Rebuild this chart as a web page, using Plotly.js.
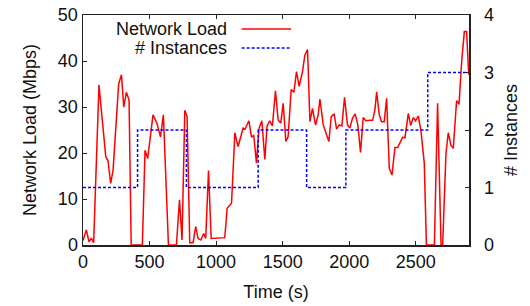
<!DOCTYPE html>
<html>
<head>
<meta charset="utf-8">
<script src="https://cdn.plot.ly/plotly-3.0.1.min.js"></script>
<style>html,body{margin:0;padding:0;background:#fff;}#chart{width:530px;height:306px;}</style>
</head>
<body>
<div id="chart"></div>
<script>
// Network load series (time in s, Mbps)
var loadTime = [0, 25, 45, 63, 80, 120, 171, 188, 208, 226, 268, 289, 306, 326, 346, 362, 446, 466, 486, 526, 556, 582, 604, 642, 702, 725, 744, 765, 782, 802, 827, 847, 865, 885, 907, 922, 943, 963, 1065, 1083, 1116, 1141, 1165, 1203, 1218, 1246, 1266, 1283, 1303, 1323, 1344, 1366, 1383, 1403, 1423, 1446, 1466, 1486, 1504, 1524, 1541, 1564, 1584, 1604, 1624, 1649, 1667, 1687, 1705, 1724, 1747, 1767, 1780, 1805, 1825, 1847, 1865, 1887, 1905, 1925, 1945, 1965, 1987, 2005, 2025, 2045, 2065, 2085, 2105, 2125, 2156, 2176, 2193, 2206, 2226, 2243, 2263, 2281, 2301, 2321, 2344, 2364, 2381, 2401, 2419, 2444, 2462, 2481, 2499, 2519, 2539, 2564, 2580, 2640, 2664, 2690, 2702, 2727, 2744, 2764, 2782, 2807, 2825, 2845, 2865, 2882, 2898];
var loadMbps = [1, 3.3, 0.7, 1.5, 0.5, 34.8, 19.2, 18.3, 13.4, 16.3, 35, 37, 30, 33.2, 31.5, 0, 0, 20.6, 18.8, 28.3, 26.4, 23.5, 28.3, 0, 0, 9.8, 1.1, 29.3, 27.9, 0.5, 0.5, 4, 1.4, 1.1, 2.5, 1.4, 16.2, 1.4, 1.6, 8, 9.1, 24.4, 21.4, 25.4, 25.2, 27, 23.5, 23.8, 17.8, 25.4, 27, 18.6, 25.9, 27, 25.9, 33.5, 27.2, 26.5, 30.8, 22.5, 23.5, 33.8, 33.2, 37.7, 34.5, 37.7, 41.3, 42.5, 26.8, 29.7, 26.1, 28.3, 31.7, 26.1, 24.4, 22.5, 27.9, 28.5, 25.2, 26.1, 25.9, 32.1, 26.1, 25.4, 27.6, 28.5, 26.1, 20.1, 27.7, 27, 27.1, 27.1, 29.3, 33.3, 28.3, 26.8, 26.8, 31.9, 16.7, 15.2, 21.2, 21.2, 22.2, 23.4, 23.3, 28.6, 26, 27.7, 27, 28, 24.8, 17.8, 0, 0, 30.8, 0, 0, 19.9, 24.4, 21.7, 21, 31.4, 30.6, 39.9, 46.4, 46.4, 37];

// Instance count (step series)
var instTime = [0, 410, 777, 1316, 1680, 1975, 2590, 2900];
var instCount = [1, 2, 1, 2, 1, 2, 3, 3];

var seriesNames = ["Network Load", "# Instances"];
var xTicks = [0, 500, 1000, 1500, 2000, 2500];
var yTicks = [0, 10, 20, 30, 40, 50];
var y2Ticks = [0, 1, 2, 3, 4];

var FONT = "Liberation Sans, Arial, Helvetica, sans-serif";
var AX = "#222";

var traces = [
  {x: loadTime, y: loadMbps, type: "scatter", mode: "lines", name: seriesNames[0],
   line: {color: "#ff0000", width: 1.5}, yaxis: "y", showlegend: false},
  {x: instTime, y: instCount, type: "scatter", mode: "lines", name: seriesNames[1],
   line: {color: "#0000ff", width: 1.5, dash: "3px,2px", shape: "hv"}, yaxis: "y2", showlegend: false}
];

var layout = {
  width: 530, height: 306,
  margin: {l: 83, r: 61, t: 15, b: 61},
  paper_bgcolor: "#fff", plot_bgcolor: "#fff",
  font: {family: FONT, size: 18, color: "#111"},
  showlegend: false,
  xaxis: {
    range: [0, 2900], tickvals: xTicks, ticktext: xTicks.map(String),
    showgrid: false, zeroline: false, showline: true, linecolor: AX, linewidth: 1.5,
    mirror: "ticks", ticks: "inside", ticklen: 4, tickcolor: AX, tickwidth: 1,
    title: {text: "Time (s)", font: {size: 18}, standoff: 14},
    tickfont: {size: 18}
  },
  yaxis: {
    range: [0, 50], tickvals: yTicks, ticktext: yTicks.map(String),
    showgrid: false, zeroline: false, showline: true, linecolor: AX, linewidth: 1.5,
    ticks: "inside", ticklen: 4, tickcolor: AX, tickwidth: 1,
    title: {text: "Network Load (Mbps)", font: {size: 18}, standoff: 16},
    tickfont: {size: 18}
  },
  yaxis2: {
    range: [0, 4], tickvals: y2Ticks, ticktext: y2Ticks.map(String),
    overlaying: "y", side: "right",
    showgrid: false, zeroline: false, showline: true, linecolor: AX, linewidth: 1.5,
    ticks: "inside", ticklen: 4, tickcolor: AX, tickwidth: 1, ticklabelstandoff: 10,
    title: {text: "# Instances", font: {size: 18}, standoff: 11},
    tickfont: {size: 18}
  },
  annotations: [
    {xref: "paper", yref: "paper", x: 0.378, y: 0.939, xanchor: "right", yanchor: "middle",
     text: seriesNames[0], showarrow: false, font: {size: 18, family: FONT, color: "#111"}},
    {xref: "paper", yref: "paper", x: 0.378, y: 0.857, xanchor: "right", yanchor: "middle",
     text: seriesNames[1], showarrow: false, font: {size: 18, family: FONT, color: "#111"}}
  ],
  shapes: [
    {type: "line", xref: "paper", yref: "paper", x0: 0.411, x1: 0.539, y0: 0.939, y1: 0.939,
     line: {color: "#ff0000", width: 1.5}},
    {type: "line", xref: "paper", yref: "paper", x0: 0.411, x1: 0.539, y0: 0.857, y1: 0.857,
     line: {color: "#0000ff", width: 1.5, dash: "3px,2px"}}
  ]
};

Plotly.newPlot("chart", traces, layout, {displayModeBar: false, staticPlot: true});
</script>
</body>
</html>
